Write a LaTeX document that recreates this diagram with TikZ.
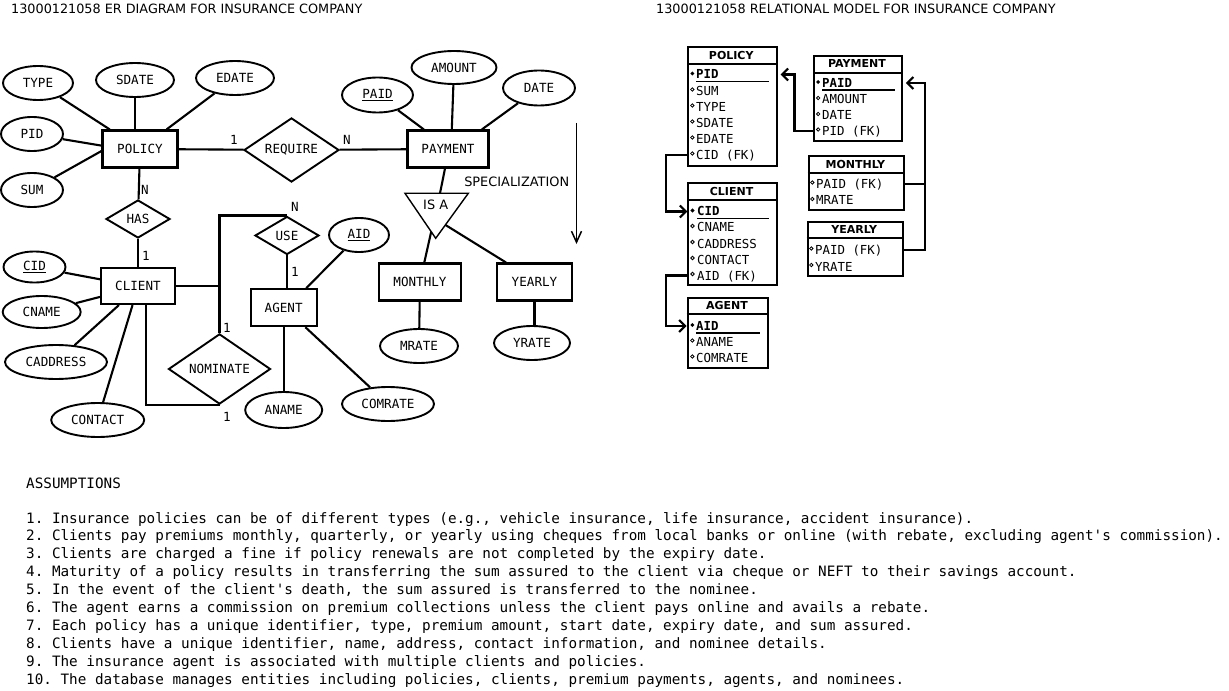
\documentclass[tikz,border=0pt]{standalone}
\usepackage{fontspec}
\setmainfont{DejaVu Sans}
\setmonofont{DejaVu Sans Mono}
\usetikzlibrary{shapes.geometric,arrows.meta,calc}
\begin{document}
\frenchspacing
\begin{tikzpicture}[x=1bp,y=-1bp,
  erf/.style={font=\fontsize{12.6bp}{15bp}\selectfont\ttfamily},
  ln/.style={line width=2.1bp},
  ent/.style={draw, rectangle, line width=2.1bp, inner sep=0pt, erf},
  attr/.style={draw, ellipse, line width=1.9bp, inner sep=0pt, erf},
  rel/.style={draw, diamond, line width=1.9bp, inner sep=0pt, erf},
  card/.style={erf, inner sep=0pt},
  title/.style={font=\fontsize{12.8bp}{15bp}\selectfont, inner sep=0pt},
  spec/.style={font=\fontsize{12.9bp}{15bp}\selectfont, inner sep=0pt},
  tbl/.style={draw, rectangle, line width=2.1bp, inner sep=0pt, anchor=north west},
  thead/.style={font=\fontsize{11bp}{13bp}\selectfont\bfseries, inner sep=0pt},
  rowt/.style={font=\fontsize{12.4bp}{14bp}\selectfont\ttfamily, inner sep=0pt, anchor=west, text height=9bp, text depth=0pt},
  kb/.style={diamond, fill, inner sep=0pt, minimum size=4.2bp},
  nb/.style={circle, draw, line width=0.8bp, inner sep=0pt, minimum size=3.4bp},
  ul/.style={line width=1.3bp},
  fk/.style={line width=2.1bp, -{Straight Barb[length=6bp,width=12bp,line width=2.1bp]}},
  asm/.style={font=\fontsize{14.3bp}{17.9bp}\selectfont\ttfamily, inner sep=0pt, anchor=base west}
]
\useasboundingbox (0,0) rectangle (1229,691);
\fill[white] (0,0) rectangle (1229,691);

% titles
\node[title, anchor=base west] (t1) at (11,13.7) {13000121058 ER DIAGRAM FOR INSURANCE COMPANY};
\node[title, anchor=base west] (t2) at (656,13.3) {13000121058 RELATIONAL MODEL FOR INSURANCE COMPANY};

% ER nodes
\node[ent, minimum width=75bp, minimum height=37bp] (policy) at (140,149) {POLICY};
\node[attr, minimum width=70bp, minimum height=34bp] (type) at (38,83) {TYPE};
\node[attr, minimum width=78bp, minimum height=34bp] (sdate) at (135,80) {SDATE};
\node[attr, minimum width=78bp, minimum height=34bp] (edate) at (235,78) {EDATE};
\node[attr, minimum width=62bp, minimum height=34bp] (pid) at (32,134) {PID};
\node[attr, minimum width=62bp, minimum height=34bp] (sum) at (32,190) {SUM};
\node[rel, minimum width=95bp, minimum height=56bp] (require) at (291.5,150) {REQUIRE};
\node[rel, minimum width=64bp, minimum height=38bp] (has) at (138,219) {HAS};
\node[ent, minimum width=74bp, minimum height=36bp] (client) at (138,286) {CLIENT};
\node[attr, minimum width=62bp, minimum height=31bp] (cid) at (34.5,267) {\underline{CID}};
\node[attr, minimum width=78bp, minimum height=32bp] (cname) at (41.7,312) {CNAME};
\node[attr, minimum width=102bp, minimum height=34bp] (caddress) at (56,362) {CADDRESS};
\node[attr, minimum width=93bp, minimum height=34bp] (contact) at (97.7,420) {CONTACT};
\node[rel, minimum width=64bp, minimum height=38bp] (use) at (287,235.5) {USE};
\node[ent, minimum width=66bp, minimum height=37bp] (agent) at (283.7,307.7) {AGENT};
\node[attr, minimum width=60bp, minimum height=34bp] (aid) at (359,235) {\underline{AID}};
\node[rel, minimum width=102bp, minimum height=61bp] (nominate) at (219.5,369) {NOMINATE};
\node[attr, minimum width=77bp, minimum height=36bp] (aname) at (283.7,410) {ANAME};
\node[attr, minimum width=92bp, minimum height=34bp] (comrate) at (388,404) {COMRATE};
\node[ent, minimum width=81bp, minimum height=37bp] (payment) at (448,149) {PAYMENT};
\node[attr, minimum width=71bp, minimum height=35bp] (paid) at (377.5,95) {\underline{PAID}};
\node[attr, minimum width=85bp, minimum height=33bp] (amount) at (454,67.5) {AMOUNT};
\node[attr, minimum width=72bp, minimum height=35bp] (date) at (539,88) {DATE};
\node[ent, minimum width=82bp, minimum height=37bp] (monthly) at (420,282) {MONTHLY};
\node[ent, minimum width=75bp, minimum height=37bp] (yearly) at (534.5,282) {YEARLY};
\node[attr, minimum width=78bp, minimum height=34bp] (mrate) at (419,346) {MRATE};
\node[attr, minimum width=76bp, minimum height=34bp] (yrate) at (532,343) {YRATE};

% ER connectors
\draw[ln] (type) -- (policy);
\draw[ln] (sdate.south) -- (sdate.south |- policy.north);
\draw[ln] (edate) -- ([xshift=-12bp]policy.north east);
\draw[ln] (pid) -- (policy.175);
\draw[ln] (sum) -- (policy.183);
\draw[ln] (policy) -- (require);
\draw[ln] (require) -- (payment);
\draw[ln] (policy) -- (has);
\draw[ln] (has) -- (client);
\draw[ln] (cid) -- (client.170);
\draw[ln] (cname) -- (client.196);
\draw[ln] (caddress) -- (client.225);
\draw[ln] (contact) -- (client.254);
\draw[ln] (use.north) -| (nominate.north);
\draw[ln] (client.east) -- (client.east -| nominate.north);
\draw[ln] (nominate.south) -| ([xshift=7.7bp]client.south);
\draw[ln] (use.south) -- (use.south |- agent.north);
\draw[ln] (aid) -- (agent.41);
\draw[ln] (agent.south) -- (aname);
\draw[ln] (agent.318) -- (comrate);
\draw[ln] (paid) -- (payment.141);
\draw[ln] (amount) -- (payment.79);
\draw[ln] (date) -- (payment.30);

% IS A triangle
\coordinate (isal) at (405,193.3);
\coordinate (isar) at (468.3,193.3);
\coordinate (isab) at (435.7,238.3);
\draw[line width=1.4bp] (isal) -- (isar) -- (isab) -- cycle;
\node[spec] (isa) at (435.7,205) {IS A};
\coordinate (isap) at (440,193.3);
\coordinate (isam) at (431.2,231.7);
\coordinate (isay) at (445.5,225);
\draw[ln] ([xshift=-3bp]payment.south) -- (isap);
\draw[ln] (isam) -- ([xshift=4.3bp]monthly.north);
\draw[ln] (isay) -- ([xshift=10bp]yearly.north west);
\draw[ln] (monthly) -- (mrate);
\draw[ln] (yearly.south) -- (yearly.south |- yrate.north);

\node[spec] (spec) at (516.7,181.7) {SPECIALIZATION};
\coordinate (spt) at (576.5,123);
\coordinate (spb) at (576.5,244);
\draw[line width=1.5bp, -{Straight Barb[length=11bp,width=10bp,line width=1.5bp]}] (spt) -- (spb);

% cardinalities
\node[card] (c1) at (234,140) {1};
\node[card] (c2) at (347,140) {N};
\node[card] (c3) at (145,190) {N};
\node[card] (c4) at (146,256) {1};
\node[card] (c5) at (295,207) {N};
\node[card] (c6) at (295,272) {1};
\node[card] (c7) at (227,328) {1};
\node[card] (c8) at (227,417) {1};

% ===== Relational model =====
% POLICY
\node[tbl, minimum width=88.5bp, minimum height=119bp] (tpol) at (687,46) {};
\draw[ln] ([yshift=-18bp]tpol.north west) -- ([yshift=-18bp]tpol.north east);
\node[thead] (hpol) at (731.25,55) {POLICY};
\node[rowt] (polpid) at (696,74.5) {\textbf{PID}};
\node[rowt] (polsum) at (696,91) {SUM};
\node[rowt] (poltype) at (696,107) {TYPE};
\node[rowt] (polsd) at (696,123) {SDATE};
\node[rowt] (poled) at (696,139) {EDATE};
\node[rowt] (polcid) at (696,155) {CID (FK)};
\node[kb] at (692.3,73.5) {};
\foreach \yy in {89.5,105.5,121.5,137.5,153.5} \node[nb] at (692.3,\yy) {};
\draw[ul] (696,81.7) -- (769,81.7);

% PAYMENT
\node[tbl, minimum width=87.5bp, minimum height=85bp] (tpay) at (813.3,55) {};
\draw[ln] ([yshift=-17.7bp]tpay.north west) -- ([yshift=-17.7bp]tpay.north east);
\node[thead] (hpay) at (857,63.8) {PAYMENT};
\node[rowt] (paypaid) at (822,83) {\textbf{PAID}};
\node[rowt] (payamt) at (822,99.5) {AMOUNT};
\node[rowt] (paydate) at (822,115.5) {DATE};
\node[rowt] (payfk) at (822,131) {PID (FK)};
\node[kb] at (818.2,82) {};
\foreach \yy in {98,114,129.5} \node[nb] at (818.2,\yy) {};
\draw[ul] (822,90) -- (895,90);

% MONTHLY
\node[tbl, minimum width=95.3bp, minimum height=54.3bp] (tmon) at (807.7,155) {};
\draw[ln] ([yshift=-17.7bp]tmon.north west) -- ([yshift=-17.7bp]tmon.north east);
\node[thead] (hmon) at (855.3,164) {MONTHLY};
\node[rowt] (monfk) at (816,184) {PAID (FK)};
\node[rowt] (monrate) at (816,200.5) {MRATE};
\foreach \yy in {182.5,199} \node[nb] at (812.3,\yy) {};

% YEARLY
\node[tbl, minimum width=95.3bp, minimum height=54.6bp] (tyr) at (806.7,220.7) {};
\draw[ln] ([yshift=-17.6bp]tyr.north west) -- ([yshift=-17.6bp]tyr.north east);
\node[thead] (hyr) at (854.3,229.5) {YEARLY};
\node[rowt] (yrfk) at (815,250) {PAID (FK)};
\node[rowt] (yrrate) at (815,266.5) {YRATE};
\foreach \yy in {248.5,265} \node[nb] at (811.3,\yy) {};

% CLIENT
\node[tbl, minimum width=88.7bp, minimum height=102bp] (tcli) at (687.3,182.3) {};
\draw[ln] ([yshift=-17.7bp]tcli.north west) -- ([yshift=-17.7bp]tcli.north east);
\node[thead] (hcli) at (731.6,191) {CLIENT};
\node[rowt] (clicid) at (697,211.5) {\textbf{CID}};
\node[rowt] (cliname) at (697,227.5) {CNAME};
\node[rowt] (cliaddr) at (697,243.5) {CADDRESS};
\node[rowt] (clicon) at (697,259.5) {CONTACT};
\node[rowt] (clifk) at (697,275.5) {AID (FK)};
\node[kb] at (692.5,210.5) {};
\foreach \yy in {226,242,258,274} \node[nb] at (692.5,\yy) {};
\draw[ul] (697,218.3) -- (769,218.3);

% AGENT
\node[tbl, minimum width=80.6bp, minimum height=70.6bp] (tag) at (686.7,296.7) {};
\draw[ln] ([yshift=-17.6bp]tag.north west) -- ([yshift=-17.6bp]tag.north east);
\node[thead] (hag) at (727,305.5) {AGENT};
\node[rowt] (agaid) at (696,326) {\textbf{AID}};
\node[rowt] (agname) at (696,342) {ANAME};
\node[rowt] (agcom) at (696,358) {COMRATE};
\node[kb] at (692.3,325) {};
\foreach \yy in {340.5,356.5} \node[nb] at (692.3,\yy) {};
\draw[ul] (696,333) -- (760,333);

% FK arrows
\coordinate (r1) at (794.5,0);
\coordinate (r2) at (665.7,0);
\coordinate (r3) at (925,0);
\draw[fk] (tpay.west |- payfk) -| (r1 |- polpid) -- ([xshift=3bp]tpol.east |- polpid);
\draw[fk] (tpol.west |- polcid) -| (r2 |- clicid) -- (tcli.west |- clicid);
\draw[fk] (tcli.west |- clifk) -| (r2 |- agaid) -- (tag.west |- agaid);
\draw[ln] (tmon.east |- monfk) -- (r3 |- monfk);
\draw[fk] (tyr.east |- yrfk) -| (r3 |- paypaid) -- ([xshift=3bp]tpay.east |- paypaid);

% Assumptions
\node[asm] (ah) at (26,488) {ASSUMPTIONS};
\node[asm] (l1) at (26,523) {1. Insurance policies can be of different types (e.g., vehicle insurance, life insurance, accident insurance).};
\node[asm] (l2) at (26,540.9) {2. Clients pay premiums monthly, quarterly, or yearly using cheques from local banks or online (with rebate, excluding agent's commission).};
\node[asm] (l3) at (26,558.8) {3. Clients are charged a fine if policy renewals are not completed by the expiry date.};
\node[asm] (l4) at (26,576.7) {4. Maturity of a policy results in transferring the sum assured to the client via cheque or NEFT to their savings account.};
\node[asm] (l5) at (26,594.6) {5. In the event of the client's death, the sum assured is transferred to the nominee.};
\node[asm] (l6) at (26,612.5) {6. The agent earns a commission on premium collections unless the client pays online and avails a rebate.};
\node[asm] (l7) at (26,630.4) {7. Each policy has a unique identifier, type, premium amount, start date, expiry date, and sum assured.};
\node[asm] (l8) at (26,648.3) {8. Clients have a unique identifier, name, address, contact information, and nominee details.};
\node[asm] (l9) at (26,666.2) {9. The insurance agent is associated with multiple clients and policies.};
\node[asm] (l10) at (26,684.1) {10. The database manages entities including policies, clients, premium payments, agents, and nominees.};
\end{tikzpicture}
\end{document}
